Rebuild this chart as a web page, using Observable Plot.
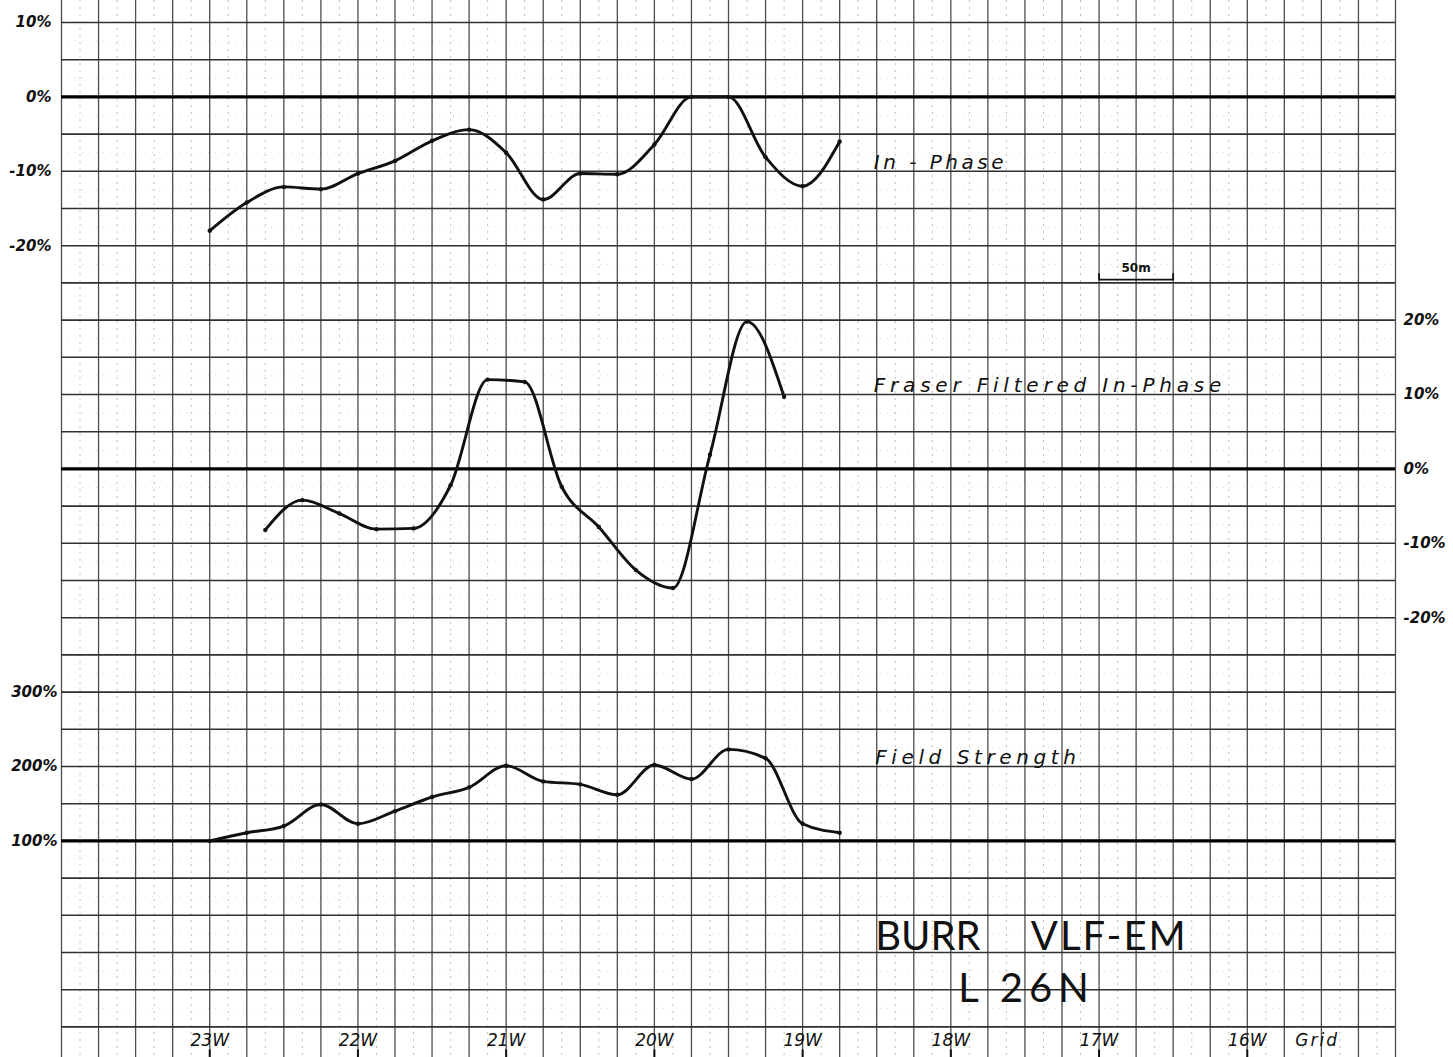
<!DOCTYPE html>
<html>
<head>
<meta charset="utf-8">
<script src="https://cdn.jsdelivr.net/npm/d3@7"></script>
<script src="https://cdn.jsdelivr.net/npm/@observablehq/plot@0.6"></script>
<style>
  html, body { margin: 0; padding: 0; background: #fff; }
  #page { position: relative; width: 1453px; height: 1057px; overflow: hidden; background: #fff; }
  #page svg { position: absolute; left: 0; display: block; }
</style>
</head>
<body>
<div id="page"></div>
<script>
// ---------------- data (read from the survey sheet) ----------------
// stations in "W" grid units (1 station = 100 m, readings every 25 m)
const inPhaseStations = [23, 22.75, 22.5, 22.25, 22, 21.75, 21.5, 21.25, 21, 20.75, 20.5, 20.25, 20, 19.75, 19.5, 19.25, 19, 18.75];
const inPhaseValues   = [-18, -14.2, -12.1, -12.4, -10.3, -8.6, -5.9, -4.4, -7.5, -13.8, -10.3, -10.4, -6.4, 0, 0, -8.1, -12, -6];

const fraserStations = [22.625, 22.375, 22.125, 21.875, 21.625, 21.375, 21.125, 20.875, 20.625, 20.375, 20.125, 19.875, 19.625, 19.375, 19.125];
const fraserValues   = [-8.2, -4.2, -6.0, -8.1, -8.0, -2.2, 12.0, 11.7, -2.4, -7.8, -13.6, -16.0, 1.9, 19.8, 9.7];

const fieldStations = [23, 22.75, 22.5, 22.25, 22, 21.75, 21.5, 21.25, 21, 20.75, 20.5, 20.25, 20, 19.75, 19.5, 19.25, 19, 18.75];
const fieldValues   = [100, 111, 120, 149, 123, 140, 159, 172, 201, 180, 176, 162, 202, 183, 223, 211, 123, 111];

const stationTicks = [23, 22, 21, 20, 19, 18, 17, 16];
const inPhaseTicks = [10, 0, -10, -20];
const fraserTicks  = [20, 10, 0, -10, -20];
const fieldTicks   = [300, 200, 100];

const seriesLabels = ["In - Phase", "Fraser Filtered In-Phase", "Field Strength"];
const titleWords   = ["BURR", "VLF-EM", "L 26N"];
const gridWord     = "Grid";
const scaleLabel   = "50m";
const scaleLength  = 0.5; // 50 m in station units

// ---------------- helpers ----------------
const toRows = (xs, ys) => xs.map((x, i) => ({x, y: ys[i]}));
const inPhase = toRows(inPhaseStations, inPhaseValues);
const fraser  = toRows(fraserStations, fraserValues);
const field   = toRows(fieldStations, fieldValues);

const X = {domain: [24, 15], range: [61, 1395], axis: null};
const gridX = d3.range(37).map(k => 24 - 0.25 * k);
const halfX = d3.range(36).map(k => 23.875 - 0.25 * k);

const hand = "DejaVu Sans, Liberation Sans, sans-serif";
const pct = d => (d < 0 ? "-" + (-d) : String(d)) + "%";

function grid(hVals, step, zero) {
  const halfH = hVals.slice(0, -1).map(v => v - step / 2);
  return [
    Plot.ruleX(halfX, {stroke: "#8a8a8a", strokeWidth: 1, strokeDasharray: "2,5", strokeOpacity: 0.55}),
    Plot.ruleY(halfH, {x1: 24, x2: 15, stroke: "#9a9a9a", strokeWidth: 0.8, strokeDasharray: "1,6", strokeOpacity: 0.45}),
    Plot.ruleX(gridX, {stroke: "#4d4d4d", strokeWidth: 1.3}),
    Plot.ruleY(hVals, {x1: 24, x2: 15, stroke: "#303030", strokeWidth: 1.6}),
    Plot.ruleY([zero], {x1: 24, x2: 15, stroke: "#000", strokeWidth: 3.4})
  ];
}

function series(rows) {
  return [
    Plot.line(rows, {x: "x", y: "y", curve: "monotone-x", stroke: "#111", strokeWidth: 2.9, strokeLinejoin: "round", strokeLinecap: "round"}),
    Plot.dot(rows, {x: "x", y: "y", r: 2.2, fill: "#111"})
  ];
}

const labelStyle = {fontFamily: hand, fontStyle: "italic", fontWeight: 400, fontSize: 20, fill: "#111", textAnchor: "start", lineAnchor: "middle"};

function panel(top, height, y, marks) {
  const svg = Plot.plot({
    width: 1453, height,
    marginTop: 0, marginBottom: 0, marginLeft: 61, marginRight: 58,
    style: {background: "transparent", overflow: "visible"},
    x: X, y: {...y, axis: null},
    marks
  });
  svg.style.top = top + "px";
  document.getElementById("page").appendChild(svg);
  return svg;
}

const tickStyle = {tickSize: 0, fontFamily: hand, fontStyle: "italic", fontWeight: "bold", fontSize: 15, fill: "#111", label: null};
const titleStyle = {fontFamily: "Lato, Liberation Sans, sans-serif", fontWeight: 400, fontSize: 40, fill: "#111", textAnchor: "start", lineAnchor: "middle"};
const stationStyle = {fontFamily: hand, fontStyle: "italic", fontSize: 17, fill: "#111", lineAnchor: "middle"};

// ---------------- top panel: In-Phase ----------------
panel(0, 300, {domain: [10, -20], range: [22, 245.2]}, [
  ...grid(d3.range(10, -26, -5), 5, 0),
  Plot.axisY({ticks: inPhaseTicks, anchor: "left", tickPadding: 10, tickFormat: pct, ...tickStyle}),
  ...series(inPhase),
  Plot.text([seriesLabels[0]], {x: 18.52, y: -8.8, text: d => d, ...labelStyle}),
  // 50 m scale bar
  Plot.line([{x: 17, y: -23.8}, {x: 17, y: -24.55}, {x: 17 - scaleLength, y: -24.55}, {x: 17 - scaleLength, y: -23.8}],
            {x: "x", y: "y", stroke: "#111", strokeWidth: 1.8}),
  Plot.text([scaleLabel], {x: 17 - scaleLength / 2, y: -23.0, text: d => d, fontFamily: hand, fontWeight: "bold", fontSize: 12, fill: "#111"})
]);

// ---------------- middle panel: Fraser filtered ----------------
panel(300, 333, {domain: [20, -20], range: [19.6, 317.2]}, [
  ...grid(d3.range(20, -21, -5), 5, 0),
  Plot.axisY({ticks: fraserTicks, anchor: "right", tickPadding: 8, tickFormat: pct, ...tickStyle, textAnchor: "start"}),
  ...series(fraser),
  Plot.text([seriesLabels[1]], {x: 18.52, y: 11.2, text: d => d, ...labelStyle})
]);

// ---------------- bottom panel: Field strength ----------------
panel(633, 424, {domain: [300, 100], range: [58.6, 207.4]}, [
  ...grid(d3.range(350, -151, -50), 50, 100),
  Plot.axisY({ticks: fieldTicks, anchor: "left", tickPadding: 4, tickFormat: pct, ...tickStyle}),
  ...series(field),
  Plot.text([seriesLabels[2]], {x: 18.51, y: 212, text: d => d, ...labelStyle}),
  Plot.text([titleWords[0]], {x: 18.51, y: -30, text: d => d, ...titleStyle}),
  Plot.text([titleWords[1]], {x: 17.46, y: -30, text: d => d, ...titleStyle}),
  Plot.text([titleWords[2]], {x: 17.95, y: -99, text: d => d, ...titleStyle}),
  // station labels along the bottom
  Plot.text(stationTicks, {x: d => d, frameAnchor: "bottom", dy: -17, text: d => d + "W", ...stationStyle}),
  Plot.text([gridWord], {x: 16, frameAnchor: "bottom", dy: -17, dx: 48, text: d => d, textAnchor: "start", ...stationStyle}),
  Plot.ruleX(stationTicks, {y1: -181, y2: -195, stroke: "#111", strokeWidth: 2})
]);

// letter spacing for the hand-lettered captions
const spacing = new Map([
  [seriesLabels[0], "3.5px"], [seriesLabels[1], "4.8px"], [seriesLabels[2], "4.6px"],
  [titleWords[0], "0px"], [titleWords[1], "2px"], [titleWords[2], "6px"],
  [gridWord, "2px"]
]);
document.querySelectorAll("#page text").forEach(t => {
  const s = spacing.get(t.textContent);
  if (s) t.style.letterSpacing = s;
});
</script>
</body>
</html>
